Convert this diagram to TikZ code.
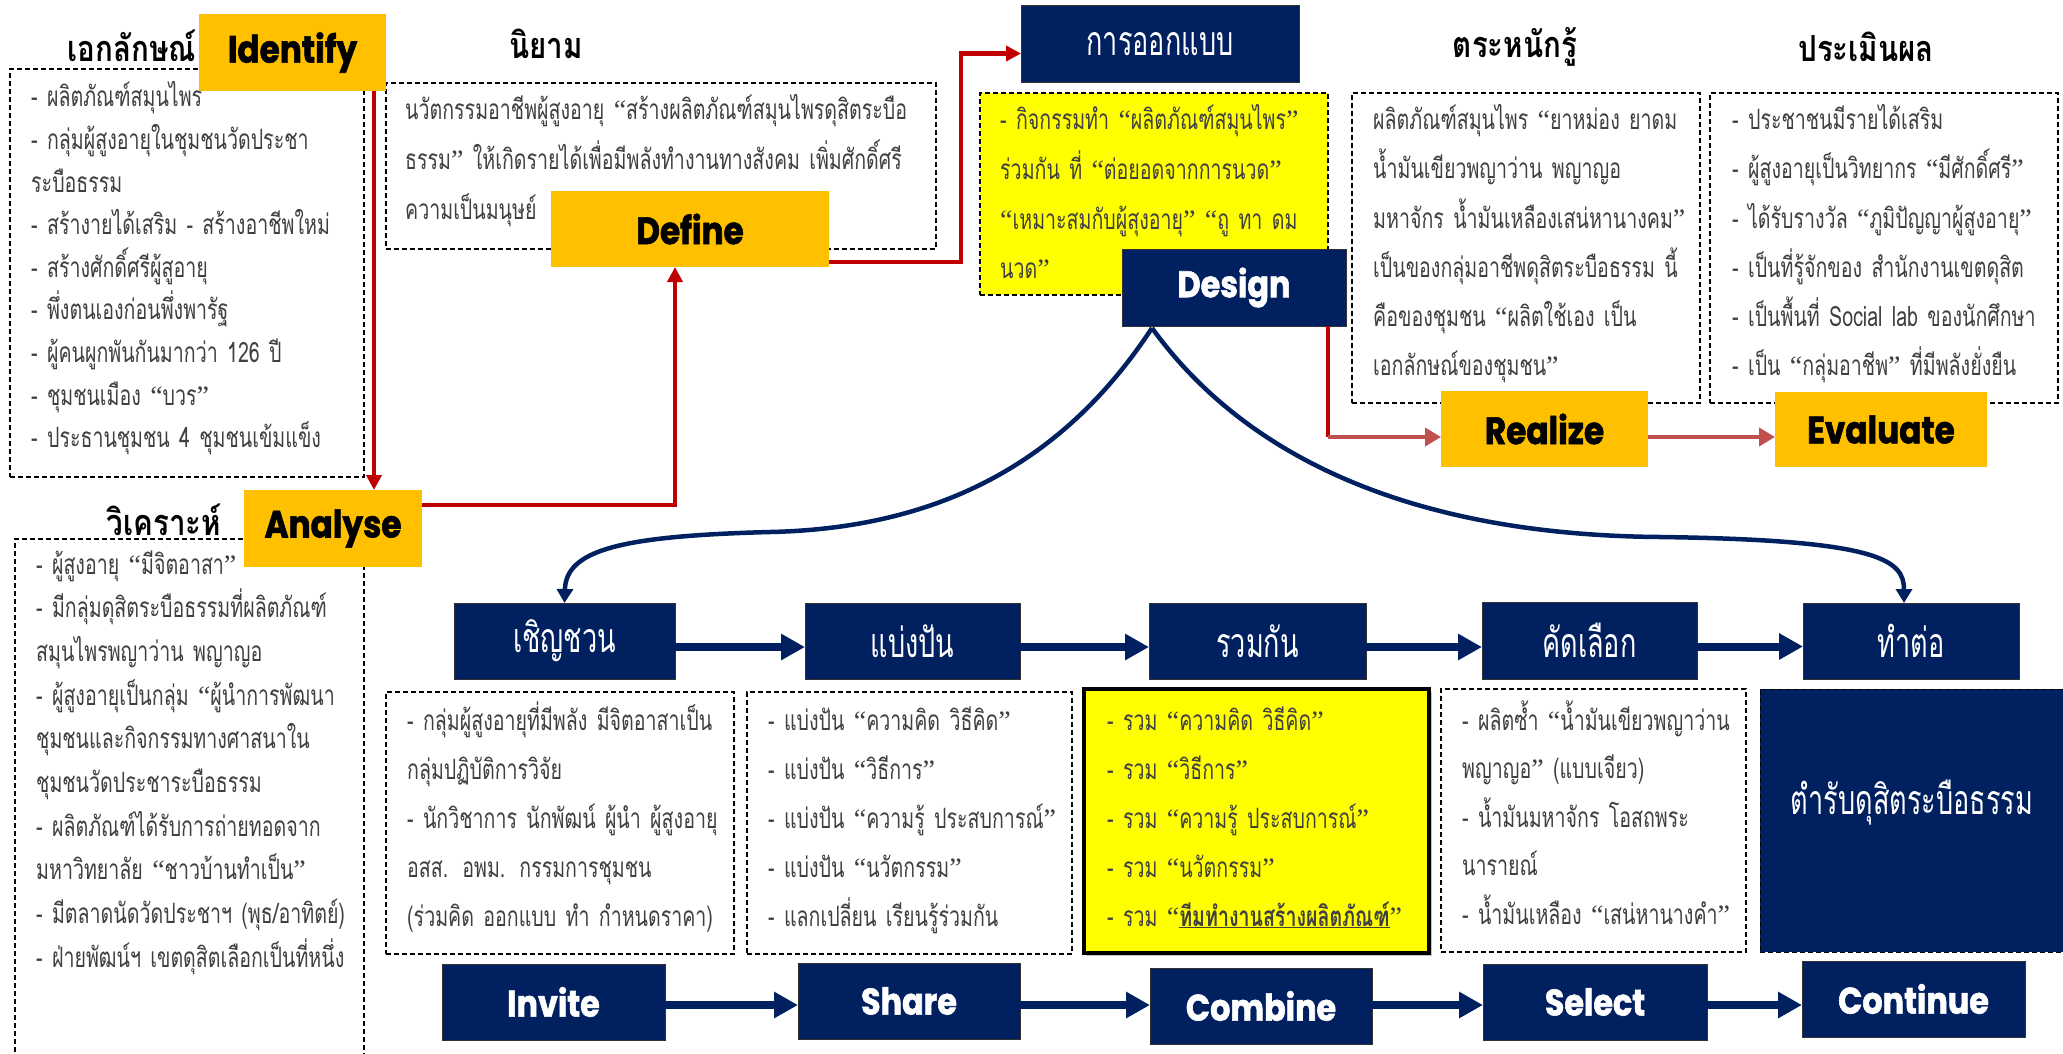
\documentclass[tikz,border=0pt]{standalone}
\usepackage{fontspec}
\usetikzlibrary{arrows.meta,shadows}
\newfontfamily\thai[Script=Thai,FakeStretch=0.70]{Loma}
\newfontfamily\thaih[Script=Thai,FakeStretch=0.82]{Loma}
\newfontfamily\thain[Script=Thai,FakeStretch=0.66]{Loma}
\newfontfamily\enf[FakeStretch=0.86,BoldFeatures={FakeBold=1.5}]{Poppins}
\newfontfamily\qfont{Liberation Serif}
\newcommand\oq{{\qfont “}}
\newcommand\cq{{\qfont ”}}
\definecolor{navy}{RGB}{0,32,96}
\definecolor{gold}{RGB}{255,192,0}
\definecolor{yel}{RGB}{255,255,0}
\definecolor{dred}{RGB}{192,0,0}
\definecolor{lred}{RGB}{192,80,77}
\definecolor{txtg}{RGB}{64,64,64}
\tikzset{
  cornerbox/.style={anchor=north west, inner sep=0pt, outer sep=0pt},
  goldbox/.style={cornerbox, fill=gold, text=black, font=\enf\bfseries\fontsize{38}{42}\selectfont},
  navybox/.style={cornerbox, fill=navy, draw=black!80, line width=1pt, text=white},
  navyth/.style={navybox, font=\thain\fontsize{41}{46}\selectfont},
  navyen/.style={navybox, font=\enf\bfseries\fontsize{37}{42}\selectfont},
  dbox/.style={cornerbox, draw=black, dash pattern=on 5pt off 3pt, line width=1.4pt},
  head/.style={inner sep=0pt, text=black, font=\thaih\bfseries\fontsize{36}{40}\selectfont},
  body/.style={anchor=base west, align=left, text width=480pt, inner sep=0pt, text=txtg, font=\thai\fontsize{28}{#1}\selectfont},
  redarr/.style={draw=dred, line width=4.5pt, -{Triangle[length=15pt,width=15pt]}},
  lredarr/.style={draw=lred, line width=4pt, -{Triangle[length=16pt,width=18pt]}},
  navyarr/.style={draw=navy, line width=8pt, -{Triangle[length=24pt,width=25pt]}},
  ncurve/.style={draw=navy, line width=4.5pt, -{Triangle[length=14pt,width=16pt]}},
}
\begin{document}
\begin{tikzpicture}[x=1pt,y=-1pt]
\fill[white] (0,0) rectangle (2063,1054);
\useasboundingbox (0,0) rectangle (2063,1054);
\clip (0,0) rectangle (2063,1054);

% ---------- dashed / coloured text boxes ----------
\node[dbox, minimum width=354pt, minimum height=408pt] (iddash) at (10,69) {};
\node[dbox, minimum width=550pt, minimum height=166pt] (nydash) at (386,83) {};
\node[dbox, minimum width=349pt, minimum height=530pt] (andash) at (15,539) {};
\node[dbox, fill=yel, minimum width=348pt, minimum height=202pt] (dsdash) at (980,93) {};
\node[dbox, minimum width=348pt, minimum height=310pt] (rzdash) at (1352,93) {};
\node[dbox, minimum width=348pt, minimum height=310pt] (evdash) at (1710,93) {};
\node[dbox, minimum width=348pt, minimum height=262pt] (chdash) at (386,692) {};
\node[dbox, minimum width=325pt, minimum height=262pt] (bpdash) at (747,692) {};
\node[cornerbox, fill=yel, draw=black, line width=4pt, drop shadow={shadow xshift=3pt, shadow yshift=-3pt, opacity=0.45}, minimum width=345pt, minimum height=264pt] (rwbox) at (1084,689) {};
\node[dbox, minimum width=305pt, minimum height=263pt] (kldash) at (1441,689) {};
\node[dbox, fill=navy, line width=1pt, minimum width=320pt, minimum height=263pt] (trbox) at (1760,689) {};

% ---------- headers ----------
\node[head] (h1) at (132,46) {เอกลักษณ์};
\node[head] (h2) at (546,44) {นิยาม};
\node[head] (h3) at (1515,47) {ตระหนักรู้};
\node[head] (h4) at (1866,47) {ประเมินผล};
\node[head] (h5) at (164,520) {วิเคราะห์};

% ---------- body texts ----------
\node[body=42.6pt] (t1) at (31,107) {- ผลิตภัณฑ์สมุนไพร\\
- กลุ่มผู้สูงอายุในชุมชนวัดประชา\\
ระบือธรรม\\
- สร้างายได้เสริม - สร้างอาชีพใหม่\\
- สร้างศักดิ์ศรีผู้สูอายุ\\
- พึ่งตนเองก่อนพึ่งพารัฐ\\
- ผู้คนผูกพันกันมากว่า 126 ปี\\
- ชุมชนเมือง \oq บวร\cq\\
- ประธานชุมชน 4 ชุมชนเข้มแข็ง};

\node[body=50pt, text width=540pt] (t2) at (405,120) {นวัตกรรมอาชีพผู้สูงอายุ \oq สร้างผลิตภัณฑ์สมุนไพรดุสิตระบือ\\
ธรรม\cq\ ให้เกิดรายได้เพื่อมีพลังทำงานทางสังคม เพิ่มศักดิ์ศรี\\
ความเป็นมนุษย์};

\node[body=49.6pt] (t3) at (1000,130) {- กิจกรรมทำ \oq ผลิตภัณฑ์สมุนไพร\cq\\
ร่วมกัน ที่ \oq ต่อยอดจากการนวด\cq\\
\oq เหมาะสมกับผู้สุงอายุ\cq\ \oq ถู ทา ดม\\
นวด\cq};

\node[body=49pt] (t4) at (1373,130) {ผลิตภัณฑ์สมุนไพร \oq ยาหม่อง ยาดม\\
น้ำมันเขียวพญาว่าน พญาญอ\\
มหาจักร น้ำมันเหลืองเสน่หานางคม\cq\\
เป็นของกลุ่มอาชีพดุสิตระบือธรรม นี้\\
คือของชุมชน \oq ผลิตใช้เอง เป็น\\
เอกลักษณ์ของชุมชน\cq};

\node[body=49pt] (t5) at (1732,130) {- ประชาชนมีรายได้เสริม\\
- ผู้สูงอายุเป็นวิทยากร \oq มีศักดิ์ศรี\cq\\
- ได้รับรางวัล \oq ภูมิปัญญาผู้สูงอายุ\cq\\
- เป็นที่รู้จักของ สำนักงานเขตดุสิต\\
- เป็นพื้นที่ Social lab ของนักศึกษา\\
- เป็น \oq กลุ่มอาชีพ\cq\ ที่มีพลังยั่งยืน};

\node[body=43.7pt] (t6) at (36,574) {- ผู้สูงอายุ \oq มีจิตอาสา\cq\\
- มีกลุ่มดุสิตระบือธรรมที่ผลิตภัณฑ์\\
สมุนไพรพญาว่าน พญาญอ\\
- ผู้สูงอายุเป็นกลุ่ม \oq ผู้นำการพัฒนา\\
ชุมชนและกิจกรรมทางศาสนาใน\\
ชุมชนวัดประชาระบือธรรม\\
- ผลิตภัณฑ์ได้รับการถ่ายทอดจาก\\
มหาวิทยาลัย \oq ชาวบ้านทำเป็น\cq\\
- มีตลาดนัดวัดประชาฯ (พุธ/อาทิตย์)\\
- ฝ่ายพัฒน์ฯ เขตดุสิตเลือกเป็นที่หนึ่ง};

\node[body=49pt] (t7) at (407,730) {- กลุ่มผู้สูงอายุที่มีพลัง มีจิตอาสาเป็น\\
กลุ่มปฏิบัติการวิจัย\\
- นักวิชาการ นักพัฒน์ ผู้นำ ผู้สูงอายุ\\
อสส. อพม. กรรมการชุมชน\\
(ร่วมคิด ออกแบบ ทำ กำหนดราคา)};

\node[body=49pt] (t8) at (768,730) {- แบ่งปัน \oq ความคิด วิธีคิด\cq\\
- แบ่งปัน \oq วิธีการ\cq\\
- แบ่งปัน \oq ความรู้ ประสบการณ์\cq\\
- แบ่งปัน \oq นวัตกรรม\cq\\
- แลกเปลี่ยน เรียนรู้ร่วมกัน};

\node[body=49pt] (t9) at (1107,730) {- รวม \oq ความคิด วิธีคิด\cq\\
- รวม \oq วิธีการ\cq\\
- รวม \oq ความรู้ ประสบการณ์\cq\\
- รวม \oq นวัตกรรม\cq\\
- รวม \oq\textbf{\underline{ทีมทำงานสร้างผลิตภัณฑ์}}\cq};

\node[body=48.5pt] (t10) at (1462,730) {- ผลิตซ้ำ \oq น้ำมันเขียวพญาว่าน\\
พญาญอ\cq\ (แบบเจียว)\\
- น้ำมันมหาจักร โอสถพระ\\
นารายณ์\\
- น้ำมันเหลือง \oq เสน่หานางคำ\cq};

\node[text=white, inner sep=0pt, font=\thain\fontsize{41}{46}\selectfont] (trtext) at (1912,803) {ตำรับดุสิตระบือธรรม};

% ---------- label boxes ----------
\node[goldbox, minimum width=187pt, minimum height=77pt] (idb) at (199,14) {Identify};
\node[goldbox, minimum width=278pt, minimum height=76pt] (dfn) at (551,191) {Define};
\node[goldbox, minimum width=178pt, minimum height=77pt] (anb) at (244,490) {Analyse};
\node[goldbox, minimum width=207pt, minimum height=76pt] (rlz) at (1441,391) {Realize};
\node[goldbox, minimum width=212pt, minimum height=75pt] (evl) at (1775,392) {Evaluate};

\node[navyth, minimum width=278pt, minimum height=77pt] (kan) at (1021,6) {การออกแบบ};
\node[navyen, minimum width=224pt, minimum height=77pt] (dsg) at (1122,249) {Design};

\node[navyth, minimum width=221pt, minimum height=76pt] (chv) at (454,603) {เชิญชวน};
\node[navyth, minimum width=215pt, minimum height=76pt] (bpn) at (805,603) {แบ่งปัน};
\node[navyth, minimum width=217pt, minimum height=76pt] (rwk) at (1149,603) {รวมกัน};
\node[navyth, minimum width=215pt, minimum height=77pt] (kdl) at (1482,602) {คัดเลือก};
\node[navyth, minimum width=216pt, minimum height=76pt] (tct) at (1803,603) {ทำต่อ};

\node[navyen, minimum width=223pt, minimum height=76pt] (inv) at (442,964) {Invite};
\node[navyen, minimum width=222pt, minimum height=76pt] (shr) at (798,963) {Share};
\node[navyen, minimum width=222pt, minimum height=76pt] (cmb) at (1150,968) {Combine};
\node[navyen, minimum width=224pt, minimum height=76pt] (slc) at (1483,964) {Select};
\node[navyen, minimum width=223pt, minimum height=76pt] (cnt) at (1802,961) {Continue};

% ---------- red connectors ----------
\coordinate (ia0) at ([xshift=-12pt]idb.south east);
\draw[redarr] (ia0) -- (ia0 |- anb.north);
\coordinate (ad0) at ([yshift=-15pt]anb.north east);
\coordinate (ad1) at ([xshift=-15pt]dfn.south);
\draw[redarr] (ad0) -| (ad1);
\coordinate (dk0) at ([yshift=5pt]dfn.south east);
\coordinate (dk1) at ([yshift=-9pt]kan.west);
\draw[redarr] (dk0) -- ++(132,0) |- (dk1);
\coordinate (dr0) at ([xshift=-18pt]dsg.south east);
\coordinate (rzw) at ([yshift=-8pt]rlz.west);
\coordinate (dr1) at (dr0 |- rzw);
\draw[draw=dred, line width=4pt] (dr0) -- (dr1);
\draw[lredarr] (dr1) -- (rzw);
\coordinate (rze) at ([yshift=-8pt]rlz.east);
\draw[lredarr] (rze) -- (rze -| evl.west);

% ---------- navy curves ----------
\coordinate (apex) at ([xshift=30pt,yshift=-2pt]dsg.south west);
\draw[ncurve] (apex) .. controls (1075,445) and (960,528) .. (770,532) .. controls (620,536) and (566,550) .. (chv.north);
\draw[ncurve] (apex) .. controls (1240,450) and (1400,535) .. (1660,537) .. controls (1880,540) and (1904,560) .. ([xshift=-7pt]tct.north);

% ---------- flow arrows ----------
\coordinate (m1) at ([yshift=-6pt]chv.east);
\draw[navyarr] (m1) -- (m1 -| bpn.west);
\coordinate (m2) at ([yshift=-6pt]bpn.east);
\draw[navyarr] (m2) -- (m2 -| rwk.west);
\coordinate (m3) at ([yshift=-6pt]rwk.east);
\draw[navyarr] (m3) -- (m3 -| kdl.west);
\coordinate (m4) at ([yshift=-6pt]kdl.east);
\draw[navyarr] (m4) -- (m4 -| tct.west);

\coordinate (b1) at ([yshift=-3pt]inv.east);
\draw[navyarr] (b1) -- (b1 -| shr.west);
\coordinate (b2) at ([yshift=-4pt]shr.east);
\draw[navyarr] (b2) -- (b2 -| cmb.west);
\coordinate (b3) at ([yshift=1pt]cmb.east);
\draw[navyarr] (b3) -- (b3 -| slc.west);
\coordinate (b4) at ([yshift=-3pt]slc.east);
\draw[navyarr] (b4) -- (b4 -| cnt.west);
\end{tikzpicture}
\end{document}
